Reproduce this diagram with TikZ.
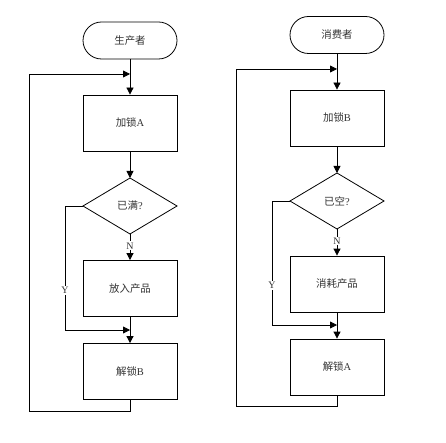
\documentclass[tikz,border=0pt]{standalone}
\usepackage{fontspec}
\setmainfont{Liberation Serif}
\newfontfamily\cjk{Noto Sans CJK SC}
\usetikzlibrary{arrows.meta}
\tikzset{
  txt/.style={text=black!80, font=\fontsize{10.5}{12}\selectfont},
  proc/.style={txt, draw=black, line width=0.8bp, minimum width=94bp, minimum height=56bp, inner sep=0pt},
  term/.style={txt, draw=black, line width=0.8bp, minimum width=94bp, minimum height=37bp, rounded corners=18.5bp, inner sep=0pt},
  conn/.style={line width=0.8bp, draw=black},
  arr/.style={conn, -{Triangle[length=7bp,width=7bp]}},
  lbl/.style={fill=white, inner sep=1pt, text=black!80, font=\fontsize{10}{11}\selectfont},
}
\begin{document}
\begin{tikzpicture}[x=1bp,y=-1bp]
\useasboundingbox (0,0) rectangle (446,443);
% ---------- producer ----------
\node[term] (pS) at (130,40.5) {\cjk 生产者};
\node[proc] (pA) at (130,123) {{\cjk 加锁}A};
\coordinate (pDt) at (130,178);
\coordinate (pDl) at (83,206);
\coordinate (pDb) at (130,234);
\coordinate (pDr) at (177,206);
\draw[conn] (pDt) -- (pDr) -- (pDb) -- (pDl) -- cycle;
\node[txt] (pD) at (130,206) {{\cjk 已满}?};
\node[proc] (pP) at (130,288.5) {\cjk 放入产品};
\node[proc] (pU) at (130,371.5) {{\cjk 解锁}B};
\coordinate (pLoop) at (130,74);
\coordinate (pMerge) at (130,330);
\coordinate (pBot) at (130,411);
\draw[arr] (pS) -- (pA);
\draw[arr] (pA) -- (pDt);
\draw[arr] (pDb) -- node[lbl, pos=0.45] (pN) {N} (pP);
\draw[conn] (pDl) -- (65,206) -- node[lbl, pos=0.68] (pY) {Y} (65,330);
\draw[arr] (65,330) -- (pMerge);
\draw[arr] (pP) -- (pU);
\draw[conn] (pU) -- (pBot) -- (29,411) -- (29,74);
\draw[arr] (29,74) -- (pLoop);
% ---------- consumer ----------
\node[term] (cS) at (337,35) {\cjk 消费者};
\node[proc] (cA) at (337,118) {{\cjk 加锁}B};
\coordinate (cDt) at (337,173);
\coordinate (cDl) at (290,201);
\coordinate (cDb) at (337,229);
\coordinate (cDr) at (384,201);
\draw[conn] (cDt) -- (cDr) -- (cDb) -- (cDl) -- cycle;
\node[txt] (cD) at (337,201) {{\cjk 已空}?};
\node[proc] (cP) at (337,284) {\cjk 消耗产品};
\node[proc] (cU) at (337,367) {{\cjk 解锁}A};
\coordinate (cLoop) at (337,69);
\coordinate (cMerge) at (337,325);
\coordinate (cBot) at (337,406);
\draw[arr] (cS) -- (cA);
\draw[arr] (cA) -- (cDt);
\draw[arr] (cDb) -- node[lbl, pos=0.45] (cN) {N} (cP);
\draw[conn] (cDl) -- (272,201) -- node[lbl, pos=0.68] (cY) {Y} (272,325);
\draw[arr] (272,325) -- (cMerge);
\draw[arr] (cP) -- (cU);
\draw[conn] (cU) -- (cBot) -- (236,406) -- (236,69);
\draw[arr] (236,69) -- (cLoop);
\end{tikzpicture}
\end{document}
